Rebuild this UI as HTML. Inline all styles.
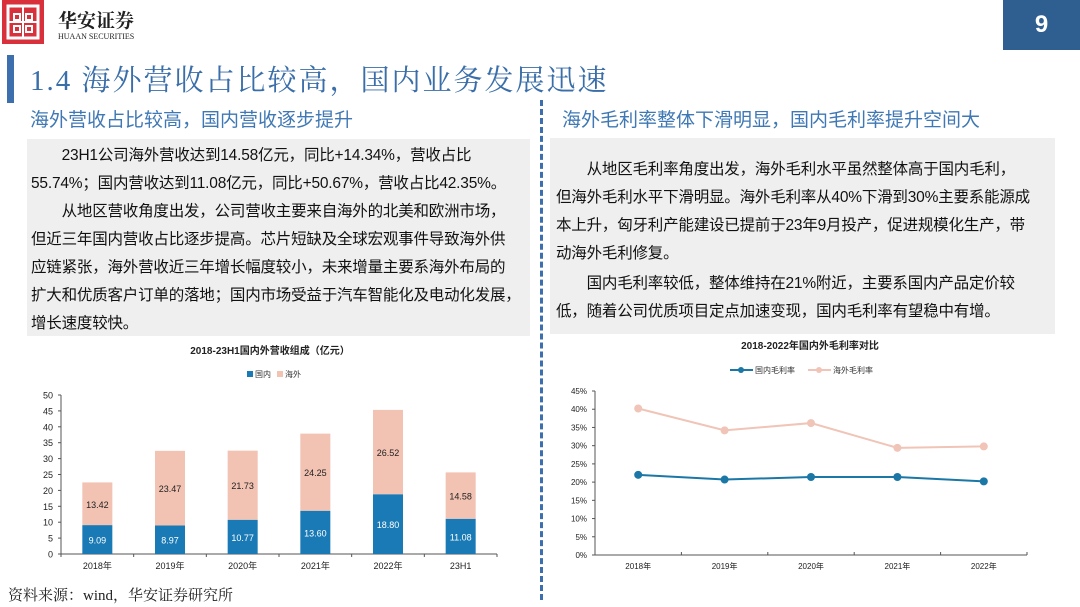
<!DOCTYPE html>
<html><head><meta charset="utf-8">
<style>
body{margin:0;width:1080px;height:607px;background:#fff;position:relative;overflow:hidden;font-family:"Liberation Sans","Noto Sans CJK SC",sans-serif;}
.abs{position:absolute;}
.box{position:absolute;background:#efefef;color:#111;font-size:15.5px;line-height:28px;box-sizing:border-box;white-space:nowrap;letter-spacing:-0.2px;}
.box div{margin:0;}
</style></head><body>
<div class="abs" style="left:2px;top:0;width:42px;height:44px;background:#d9313c;">
<svg width="42" height="44"><rect x="6" y="6" width="30" height="32" fill="none" stroke="#fff" stroke-width="3"/><path d="M21 6V38M6 22H36M12 14h6v6h-6zM24 14h6v6h-6zM12 26h6v6h-6zM24 26h6v6h-6z" stroke="#fff" stroke-width="2" fill="none"/></svg></div>
<div class="abs" style="left:58px;top:6px;font-family:'Noto Serif CJK SC',serif;font-size:19px;font-weight:bold;color:#222;">华安证券</div>
<div class="abs" style="left:58px;top:32px;font-size:8px;color:#222;font-family:'Liberation Serif',serif;">HUAAN SECURITIES</div>
<div class="abs" style="left:1003px;top:0;width:77px;height:50px;background:#2f5f90;color:#fff;font-size:24px;font-weight:bold;text-align:center;line-height:50px;">9</div>
<div class="abs" style="left:7px;top:55px;width:7px;height:48px;background:#3d6fae;"></div>
<div class="abs" style="left:30px;top:58px;font-family:'Liberation Serif','Noto Serif CJK SC',serif;font-size:29px;color:#3a6ea8;letter-spacing:2px;">1.4 海外营收占比较高，国内业务发展迅速</div>
<div class="abs" style="left:30px;top:105px;font-size:19px;color:#3f78b4;">海外营收占比较高，国内营收逐步提升</div>
<div class="abs" style="left:562px;top:105px;font-size:19px;color:#3f78b4;">海外毛利率整体下滑明显，国内毛利率提升空间大</div>
<div class="abs" style="left:540px;top:100px;height:500px;border-left:3px dashed #3d6fae;"></div>
<div class="box" style="left:27px;top:139px;width:503px;height:197px;padding:3px 4px 0 4px;">
<div>&emsp;&emsp;23H1公司海外营收达到14.58亿元，同比+14.34%，营收占比</div>
<div>55.74%；国内营收达到11.08亿元，同比+50.67%，营收占比42.35%。</div>
<div>&emsp;&emsp;从地区营收角度出发，公司营收主要来自海外的北美和欧洲市场，</div>
<div>但近三年国内营收占比逐步提高。芯片短缺及全球宏观事件导致海外供</div>
<div>应链紧张，海外营收近三年增长幅度较小，未来增量主要系海外布局的</div>
<div>扩大和优质客户订单的落地；国内市场受益于汽车智能化及电动化发展，</div>
<div>增长速度较快。</div></div>
<div class="box" style="left:550px;top:138px;width:505px;height:196px;padding:18px 6px 0 6px;">
<div>&emsp;&emsp;从地区毛利率角度出发，海外毛利水平虽然整体高于国内毛利，</div>
<div>但海外毛利水平下滑明显。海外毛利率从40%下滑到30%主要系能源成</div>
<div>本上升，匈牙利产能建设已提前于23年9月投产，促进规模化生产，带</div>
<div>动海外毛利修复。</div>
<div style="margin-top:2px">&emsp;&emsp;国内毛利率较低，整体维持在21%附近，主要系国内产品定价较</div>
<div>低，随着公司优质项目定点加速变现，国内毛利率有望稳中有增。</div></div>
<div class="abs" style="left:8px;top:584px;font-size:15px;color:#222;font-family:'Liberation Serif','Noto Serif CJK SC',serif;">资料来源：wind，华安证券研究所</div>
<svg id="c1" class="abs" style="left:0;top:340px" width="540" height="240"></svg>
<svg id="c2" class="abs" style="left:540px;top:330px" width="540" height="250"></svg>
<script>
const cats1=['2018年','2019年','2020年','2021年','2022年','23H1'];
const domestic=[9.09,8.97,10.77,13.60,18.80,11.08];
const overseas=[13.42,23.47,21.73,24.25,26.52,14.58];
const yTicks1=[0,5,10,15,20,25,30,35,40,45,50];
const cats2=['2018年','2019年','2020年','2021年','2022年'];
const domMargin=[22.0,20.7,21.4,21.4,20.2];
const ovsMargin=[40.2,34.2,36.2,29.4,29.8];
const yTicks2=[0,5,10,15,20,25,30,35,40,45];
const NS='http://www.w3.org/2000/svg';
function mk(svg,tag,attrs,txt){const e=document.createElementNS(NS,tag);for(const k in attrs)e.setAttribute(k,attrs[k]);if(txt!=null)e.textContent=txt;svg.appendChild(e);return e;}
(function(){
const s=document.getElementById('c1');
const x0=61,x1=497,yb=214,yt=55;
const y=v=>yb-(v/50)*(yb-yt);
const step=(x1-x0)/cats1.length;
const cx=i=>x0+step*(i+0.5);
let t=mk(s,'text',{x:270,y:14,'font-size':10,'text-anchor':'middle',fill:'#222','font-weight':'bold'},'2018-23H1国内外营收组成（亿元）');


let g=mk(s,'g',{});


mk(g,'rect',{x:247,y:31,width:6,height:6,fill:'#1a7ab5'});mk(g,'text',{x:255,y:37,'font-size':8,fill:'#333'},'国内');
mk(g,'rect',{x:277,y:31,width:6,height:6,fill:'#f2c2b2'});mk(g,'text',{x:285,y:37,'font-size':8,fill:'#333'},'海外');
mk(s,'line',{x1:x0,y1:yt,x2:x0,y2:yb,stroke:'#555'});mk(s,'line',{x1:x0,y1:yb,x2:x1,y2:yb,stroke:'#555'});
yTicks1.forEach(v=>{mk(s,'line',{x1:x0-3,y1:y(v),x2:x0,y2:y(v),stroke:'#555'});
 let l=mk(s,'text',{x:x0-8,y:y(v)+3.5,'font-size':9,'text-anchor':'end',fill:'#222'},v);
 
 });
for(let i=0;i<=cats1.length;i++)mk(s,'line',{x1:x0+step*i,y1:yb,x2:x0+step*i,y2:yb+3,stroke:'#555'});
cats1.forEach((c,i)=>{const bw=30;
 let r=mk(s,'rect',{x:cx(i)-bw/2,y:y(domestic[i]),width:bw,height:yb-y(domestic[i]),fill:'#1a7ab5'});
 
 
 let r2=mk(s,'rect',{x:cx(i)-bw/2,y:y(domestic[i]+overseas[i]),width:bw,height:y(domestic[i])-y(domestic[i]+overseas[i]),fill:'#f2c2b2'});
 
 
 mk(s,'text',{x:cx(i),y:(y(domestic[i])+yb)/2+4,'font-size':9,'text-anchor':'middle',fill:'#fff'},domestic[i].toFixed(2));
 mk(s,'text',{x:cx(i),y:(y(domestic[i])+y(domestic[i]+overseas[i]))/2+4,'font-size':9,'text-anchor':'middle',fill:'#222'},overseas[i].toFixed(2));
 let l=mk(s,'text',{x:cx(i),y:yb+15,'font-size':9,'text-anchor':'middle',fill:'#222'},c);
 
 });
})();
(function(){
const s=document.getElementById('c2');
const x0=55,x1=487,yb=225,yt=61;
const y=v=>yb-(v/45)*(yb-yt);
const step=(x1-x0)/cats2.length;
const cx=i=>x0+step*(i+0.5);
let t=mk(s,'text',{x:270,y:19,'font-size':10,'text-anchor':'middle',fill:'#222','font-weight':'bold'},'2018-2022年国内外毛利率对比');


let g=mk(s,'g',{});


mk(g,'line',{x1:190,y1:40,x2:213,y2:40,stroke:'#1b77a6','stroke-width':2});mk(g,'circle',{cx:201,cy:40,r:3,fill:'#1b77a6'});mk(g,'text',{x:215,y:43,'font-size':8,fill:'#333'},'国内毛利率');
mk(g,'line',{x1:268,y1:40,x2:291,y2:40,stroke:'#f0c4b6','stroke-width':2});mk(g,'circle',{cx:279,cy:40,r:3,fill:'#f0c4b6'});mk(g,'text',{x:293,y:43,'font-size':8,fill:'#333'},'海外毛利率');
mk(s,'line',{x1:x0,y1:yt,x2:x0,y2:yb,stroke:'#555'});mk(s,'line',{x1:x0,y1:yb,x2:x1,y2:yb,stroke:'#555'});
yTicks2.forEach(v=>{mk(s,'line',{x1:x0-3,y1:y(v),x2:x0,y2:y(v),stroke:'#555'});
 let l=mk(s,'text',{x:x0-8,y:y(v)+3,'font-size':8,'text-anchor':'end',fill:'#222'},v+'%');
 
 });
for(let i=1;i<=cats2.length;i++)mk(s,'line',{x1:x0+step*i,y1:yb,x2:x0+step*i,y2:yb-3,stroke:'#555'});
cats2.forEach((c,i)=>{let l=mk(s,'text',{x:cx(i),y:yb+14,'font-size':8,'text-anchor':'middle',fill:'#222'},c);
 
 });
[[ovsMargin,'#f0c4b6','overseas'],[domMargin,'#1b77a6','domestic']].forEach(([d,col,n])=>{
 let p=mk(s,'polyline',{points:d.map((v,i)=>cx(i)+','+y(v)).join(' '),fill:'none',stroke:col,'stroke-width':2});
 
 
 d.forEach((v,i)=>{let c=mk(s,'circle',{cx:cx(i),cy:y(v),r:4,fill:col});
 
 });});
})();
</script>
</body></html>
